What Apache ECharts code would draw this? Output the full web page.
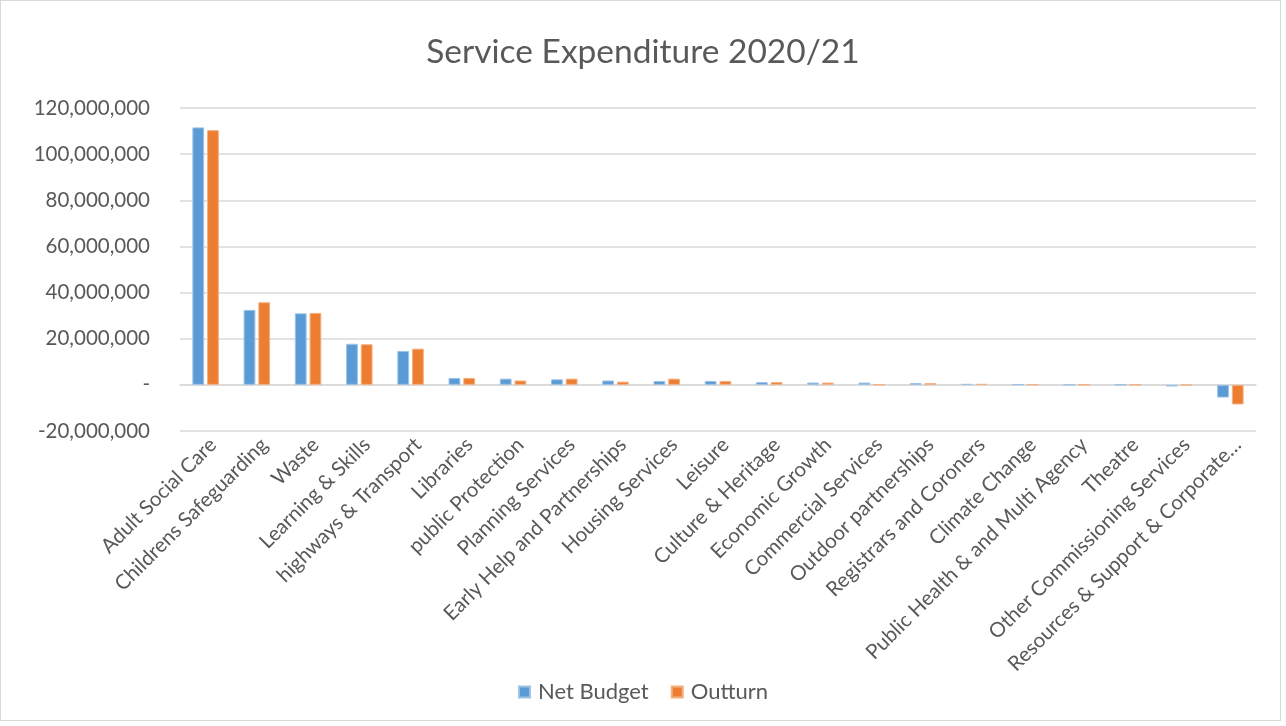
<!DOCTYPE html>
<html>
<head>
<meta charset="utf-8">
<script src="https://cdn.jsdelivr.net/npm/echarts@6/dist/echarts.min.js"></script>
<style>
html,body{margin:0;padding:0;background:#fff;}
#frame{position:absolute;left:0;top:0;width:1281px;height:721px;border:1px solid #d9d9d9;box-sizing:border-box;}
#chart{position:absolute;left:0;top:0;width:1286px;height:726px;}
</style>
</head>
<body>
<div id="frame"></div>
<div id="chart"></div>
<script>
const titleText = 'Service Expenditure 2020/21';
const categories = ['Adult Social Care','Childrens Safeguarding','Waste','Learning & Skills','highways & Transport','Libraries','public Protection','Planning Services','Early Help and Partnerships','Housing Services','Leisure','Culture & Heritage','Economic Growth','Commercial Services','Outdoor partnerships','Registrars and Coroners','Climate Change','Public Health & and Multi Agency','Theatre','Other Commissioning Services','Resources & Support & Corporate…'];
const seriesNames = ['Net Budget','Outturn'];
const netBudget = [111600000,32500000,31000000,17800000,14700000,3000000,2700000,2400000,1900000,1700000,1700000,1200000,1000000,1000000,800000,400000,200000,50000,20000,-700000,-5500000];
const outturn = [110400000,35800000,31200000,17600000,15700000,3000000,1900000,2700000,1400000,2700000,1700000,1200000,1000000,100000,800000,400000,200000,50000,20000,-100000,-8500000];
const yMin = -20000000, yMax = 120000000, yStep = 20000000;

const font = 'Lato, "Open Sans", sans-serif';
const chart = echarts.init(document.getElementById('chart'));
function fmt(v){ if (v === 0) return '-'; return (v<0?'-':'') + Math.abs(v).toString().replace(/\B(?=(\d{3})+(?!\d))/g, ','); }
chart.setOption({
  animation:false,
  title:{text:titleText,left:'center',top:30,textStyle:{fontFamily:font,fontSize:33.5,fontWeight:'normal',color:'#595959'}},
  legend:{data:seriesNames,bottom:18,left:'center',itemWidth:11,itemHeight:11,itemGap:22,icon:'rect',textStyle:{fontFamily:font,fontSize:22,color:'#595959',padding:[0,0,0,3]}},
  grid:{left:180,right:30,top:108,bottom:295,containLabel:false},
  xAxis:{type:'category',data:categories,
    axisLine:{lineStyle:{color:'#d9d9d9',width:1.5}},axisTick:{show:false},
    axisLabel:{interval:0,rotate:45,verticalAlign:'top',fontFamily:font,fontSize:20.5,color:'#595959',margin:3}},
  yAxis:{type:'value',min:yMin,max:yMax,interval:yStep,
    axisLine:{show:false},axisTick:{show:false},
    splitLine:{lineStyle:{color:'#d9d9d9',width:1.5}},
    axisLabel:{formatter:fmt,fontFamily:font,fontSize:20.5,color:'#595959',margin:30}},
  series:[
    {name:seriesNames[0],type:'bar',data:netBudget,barWidth:'23%',barGap:'25%',itemStyle:{color:'#5B9BD5',borderColor:'#9DC3E6',borderWidth:1}},
    {name:seriesNames[1],type:'bar',data:outturn,barWidth:'23%',barGap:'25%',itemStyle:{color:'#ED7D31',borderColor:'#F4B183',borderWidth:1}}
  ]
});
</script>
</body>
</html>
